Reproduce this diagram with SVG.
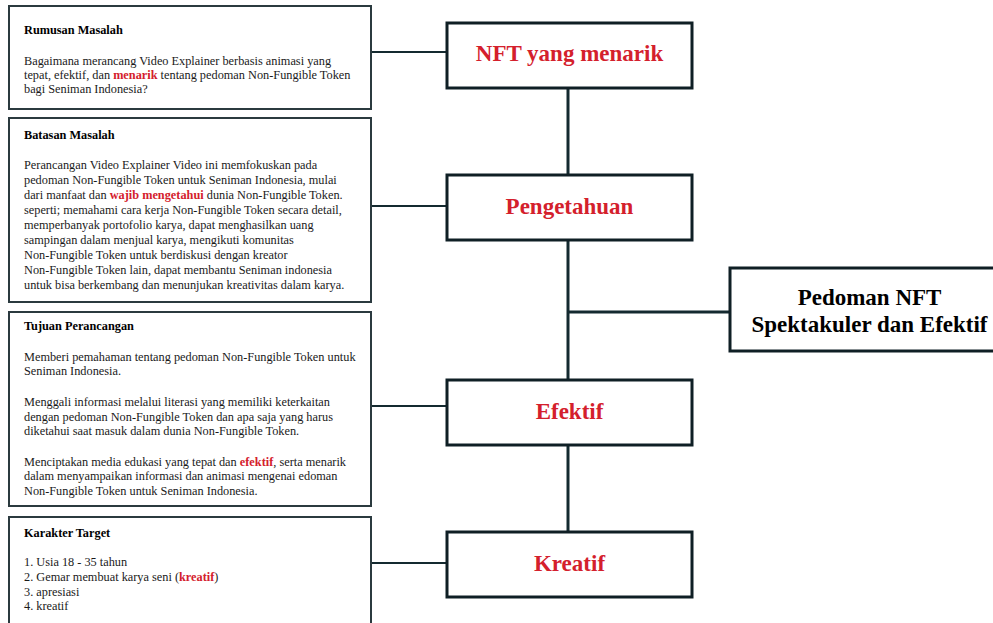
<svg xmlns="http://www.w3.org/2000/svg" width="993" height="623" viewBox="0 0 993 623">
<style>
.info{fill:#fff;stroke:#2b3a3f;stroke-width:2}
.node{fill:#fff;stroke:#0f1f25;stroke-width:3}
.conn{stroke:#142a30;fill:none}
.thick{stroke-width:3}
.thin{stroke-width:2}
.t{font-family:"Liberation Serif","Times New Roman",serif;font-size:12.3px;fill:#1a1a1a}
.h{font-weight:bold;fill:#000}
.r{font-weight:bold;fill:#d4202c}
.nt{font-family:"Liberation Serif","Times New Roman",serif;font-size:23px;font-weight:bold;text-anchor:middle;fill:#d4202c}
.mt{font-family:"Liberation Serif","Times New Roman",serif;font-size:23px;font-weight:bold;text-anchor:middle;fill:#000}
</style>
<rect width="993" height="623" fill="#fff"/>
<g id="connectors">
<line class="conn thin" x1="371" y1="52" x2="447" y2="52"/>
<line class="conn thin" x1="371" y1="206" x2="447" y2="206"/>
<line class="conn thin" x1="371" y1="406" x2="447" y2="406"/>
<line class="conn thin" x1="371" y1="563" x2="447" y2="563"/>
<line class="conn thick" x1="568" y1="88" x2="568" y2="380"/>
<line class="conn thick" x1="568" y1="445" x2="568" y2="532"/>
<line class="conn thick" x1="568" y1="312" x2="730" y2="312"/>
</g>
<g id="rumusan">
<rect class="info" x="9" y="6" width="362" height="103"/>
<text class="t h" x="24" y="34">Rumusan Masalah</text>
<text class="t" x="24" y="65">Bagaimana merancang Video Explainer berbasis animasi yang</text>
<text class="t" x="24" y="79">tepat, efektif, dan <tspan class="r">menarik</tspan> tentang pedoman Non-Fungible Token</text>
<text class="t" x="24" y="93">bagi Seniman Indonesia?</text>
</g>
<g id="batasan">
<rect class="info" x="9" y="118" width="362" height="184"/>
<text class="t h" x="24" y="139">Batasan Masalah</text>
<text class="t" x="24" y="169">Perancangan Video Explainer Video ini memfokuskan pada</text>
<text class="t" x="24" y="184">pedoman Non-Fungible Token untuk Seniman Indonesia, mulai</text>
<text class="t" x="24" y="199">dari manfaat dan <tspan class="r">wajib mengetahui</tspan> dunia Non-Fungible Token.</text>
<text class="t" x="24" y="214">seperti; memahami cara kerja Non-Fungible Token secara detail,</text>
<text class="t" x="24" y="229">memperbanyak portofolio karya, dapat menghasilkan uang</text>
<text class="t" x="24" y="244">sampingan dalam menjual karya, mengikuti komunitas</text>
<text class="t" x="24" y="259">Non-Fungible Token untuk berdiskusi dengan kreator</text>
<text class="t" x="24" y="274">Non-Fungible Token lain, dapat membantu Seniman indonesia</text>
<text class="t" x="24" y="289">untuk bisa berkembang dan menunjukan kreativitas dalam karya.</text>
</g>
<g id="tujuan">
<rect class="info" x="9" y="312" width="362" height="194"/>
<text class="t h" x="24" y="330">Tujuan Perancangan</text>
<text class="t" x="24" y="360.5">Memberi pemahaman tentang pedoman Non-Fungible Token untuk</text>
<text class="t" x="24" y="374.5">Seniman Indonesia.</text>
<text class="t" x="24" y="405.5">Menggali informasi melalui literasi yang memiliki keterkaitan</text>
<text class="t" x="24" y="420.5">dengan pedoman Non-Fungible Token dan apa saja yang harus</text>
<text class="t" x="24" y="435">diketahui saat masuk dalam dunia Non-Fungible Token.</text>
<text class="t" x="24" y="465.5">Menciptakan media edukasi yang tepat dan <tspan class="r">efektif</tspan>, serta menarik</text>
<text class="t" x="24" y="480">dalam menyampaikan informasi dan animasi mengenai edoman</text>
<text class="t" x="24" y="494.5">Non-Fungible Token untuk Seniman Indonesia.</text>
</g>
<g id="karakter">
<rect class="info" x="9" y="517" width="362" height="120"/>
<text class="t h" x="24" y="536.5">Karakter Target</text>
<text class="t" x="24" y="566">1. Usia 18 - 35 tahun</text>
<text class="t" x="24" y="581">2. Gemar membuat karya seni (<tspan class="r">kreatif</tspan>)</text>
<text class="t" x="24" y="596">3. apresiasi</text>
<text class="t" x="24" y="610">4. kreatif</text>
</g>
<g id="nft-menarik">
<rect class="node" x="447" y="23" width="245" height="65"/>
<text class="nt" x="569.5" y="61">NFT yang menarik</text>
</g>
<g id="pengetahuan">
<rect class="node" x="447" y="175" width="245" height="65"/>
<text class="nt" x="569.5" y="214">Pengetahuan</text>
</g>
<g id="efektif">
<rect class="node" x="447" y="380" width="245" height="65"/>
<text class="nt" x="569.5" y="419">Efektif</text>
</g>
<g id="kreatif">
<rect class="node" x="447" y="532" width="245" height="65"/>
<text class="nt" x="569.5" y="571">Kreatif</text>
</g>
<g id="pedoman">
<rect class="node" x="730" y="268" width="280" height="83"/>
<text class="mt" x="869.5" y="305">Pedoman NFT</text>
<text class="mt" x="869.5" y="332">Spektakuler dan Efektif</text>
</g>
</svg>
